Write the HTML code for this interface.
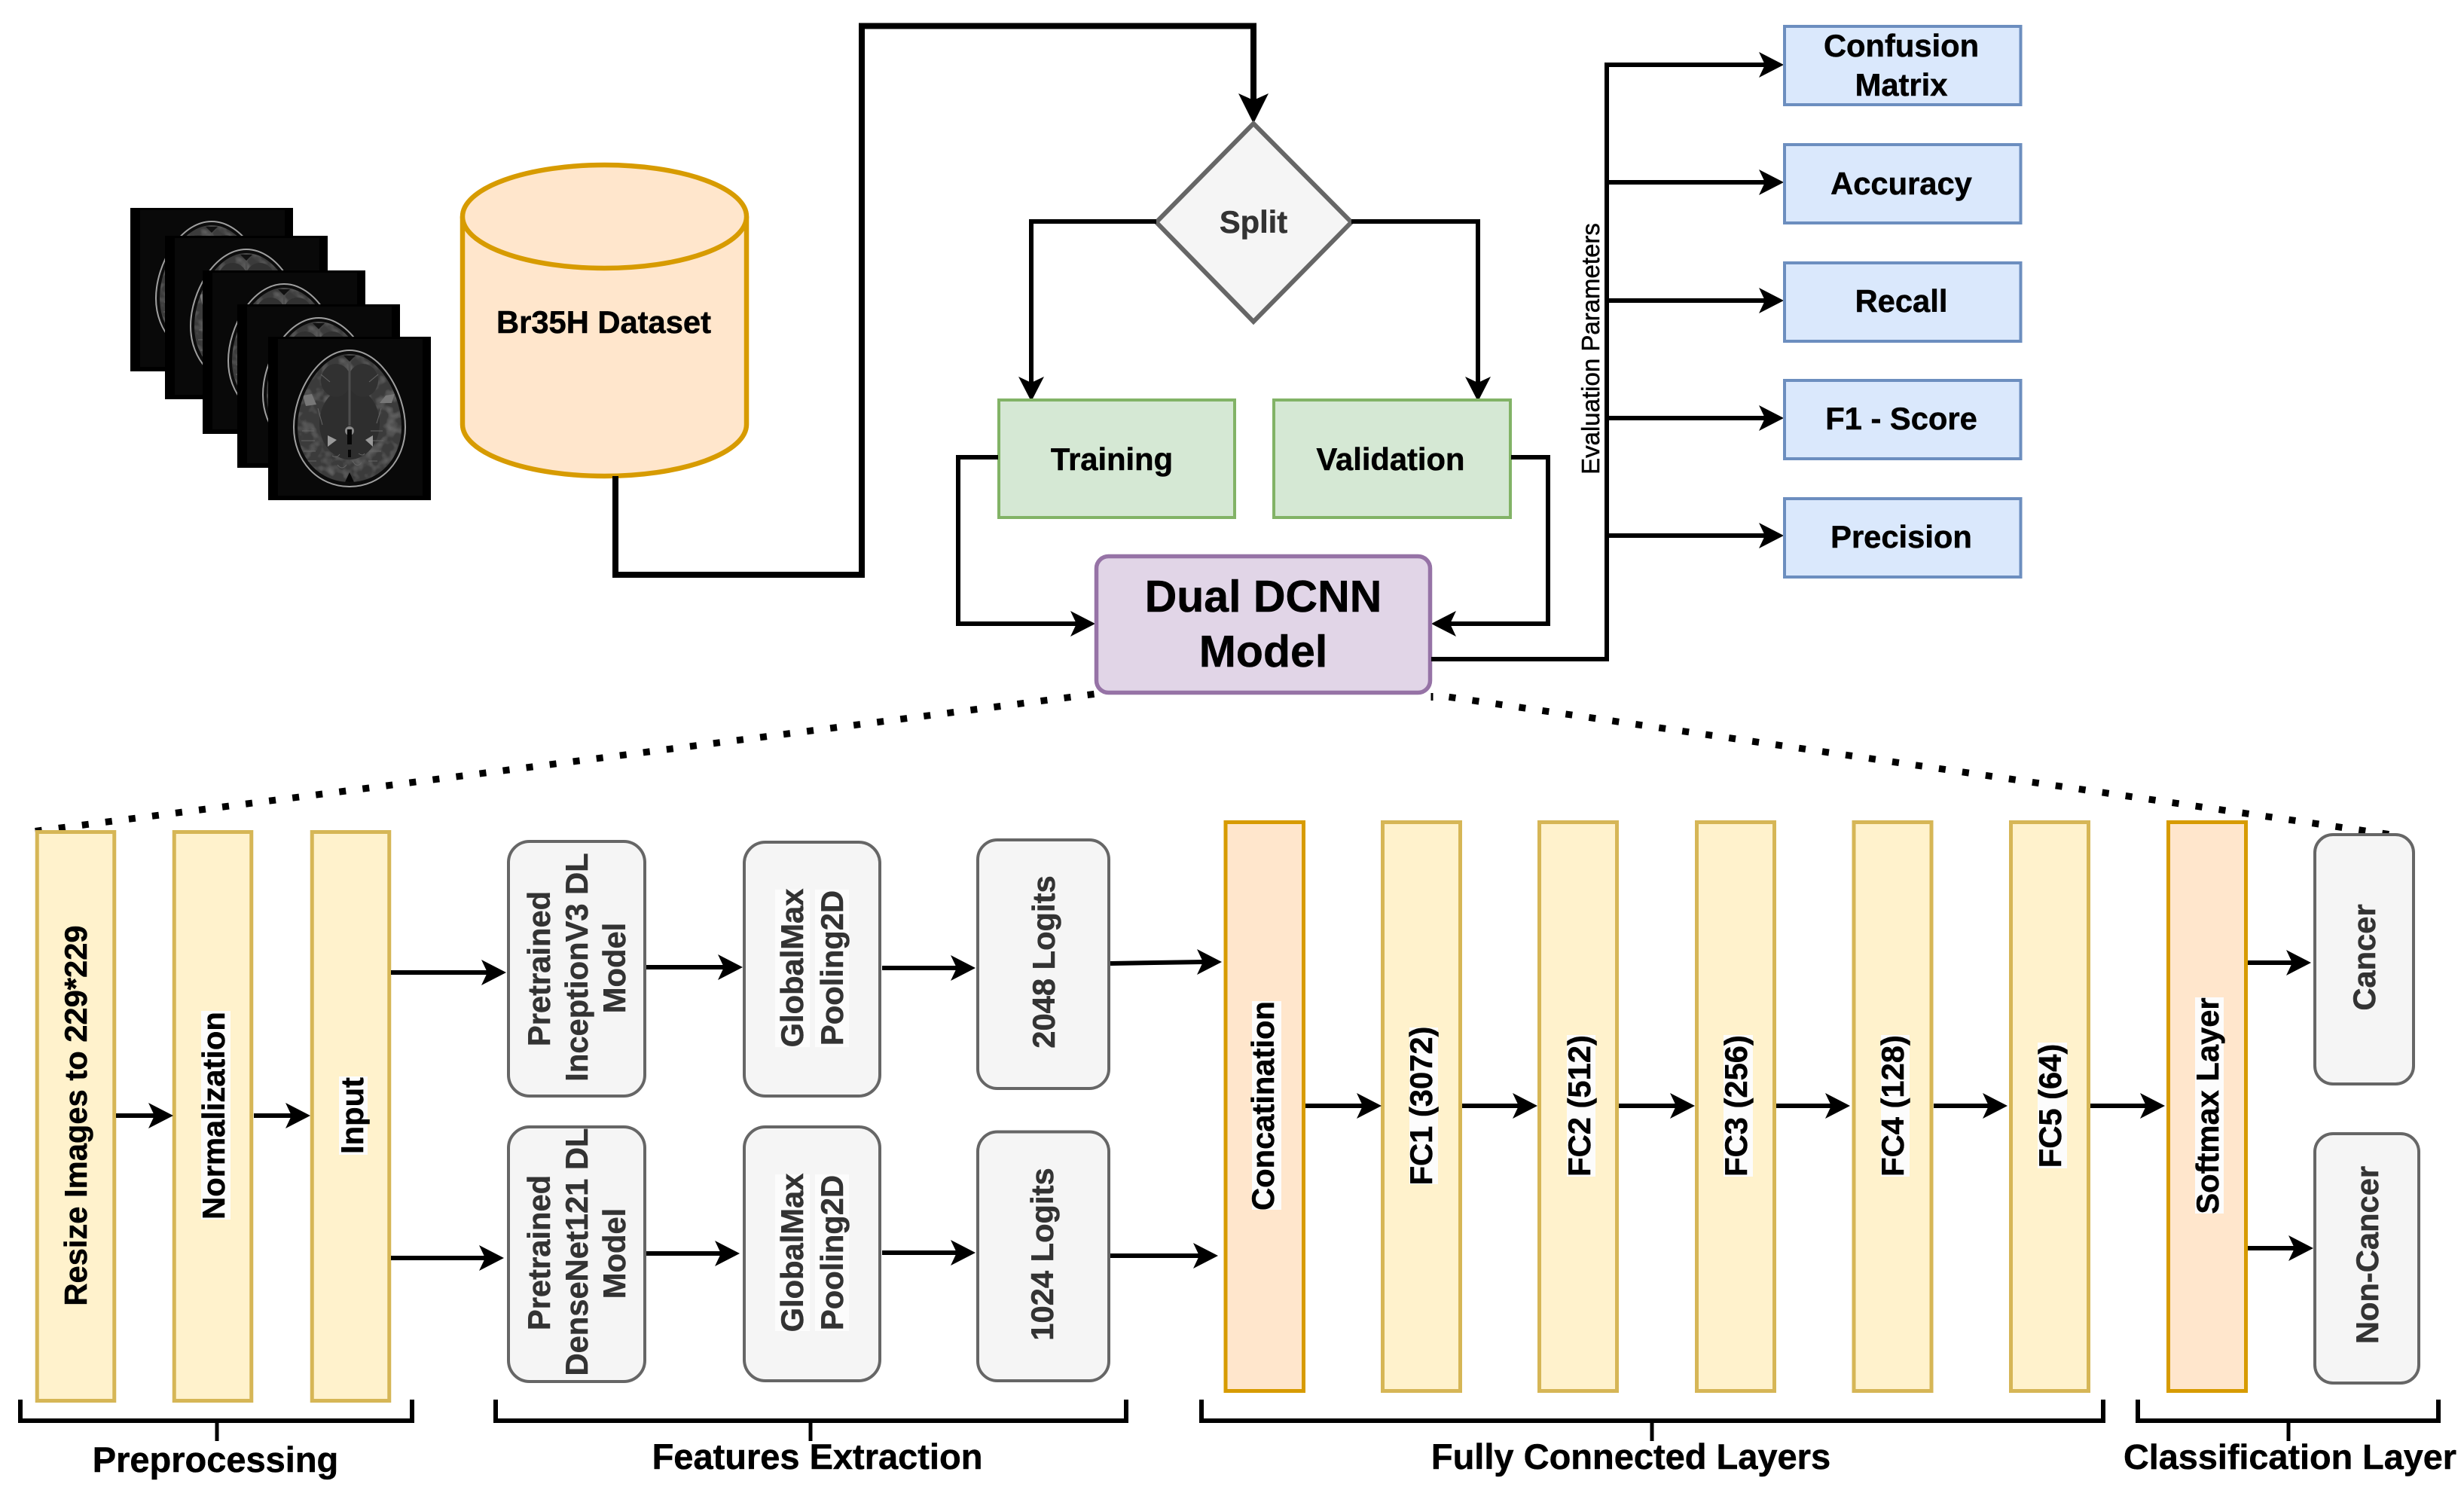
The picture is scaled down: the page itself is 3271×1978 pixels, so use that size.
<!DOCTYPE html>
<html><head><meta charset="utf-8"><style>
html,body{margin:0;padding:0;background:#fff}
svg{display:block}
text{font-family:"Liberation Sans",sans-serif;font-weight:bold;font-size:41.7px;text-anchor:middle;fill:#000;stroke:#000;stroke-width:.5px}
text.g{fill:#333;stroke:#333}
.y{fill:#fff2cc;stroke:#d6b656;stroke-width:5}
.o{fill:#ffe6cc;stroke:#d79b00;stroke-width:5}
.b{fill:#dae8fc;stroke:#6c8ebf;stroke-width:4}
.gr{fill:#d5e8d4;stroke:#82b366;stroke-width:4}
.n{fill:#f5f5f5;stroke:#666;stroke-width:4}
.l{fill:none;stroke:#000;stroke-width:6}
.bg{fill:#fcfcfc}
</style></head><body>
<svg xmlns="http://www.w3.org/2000/svg" width="3271" height="1978" viewBox="0 0 3271 1978">
<defs>
<path id="ah" d="M0 0L-33 -17L-25 0L-33 17Z"/>
<filter id="tx" x="0" y="0" width="100%" height="100%">
<feTurbulence type="fractalNoise" baseFrequency="0.07" numOctaves="2" seed="7" result="n"/>
<feColorMatrix in="n" type="matrix" values="0 0 0 0 1 0 0 0 0 1 0 0 0 0 1 2.2 0 0 0 -1.0" result="m"/>
<feComposite in="m" in2="SourceAlpha" operator="in" result="c"/>
<feComponentTransfer in="c" result="d"><feFuncA type="linear" slope="0.12"/></feComponentTransfer>
<feMerge><feMergeNode in="SourceGraphic"/><feMergeNode in="d"/></feMerge>
</filter>
<clipPath id="bc"><path d="M108 23C147 23 177 77 177 120C177 162 147 193 108 193C69 193 39 162 39 120C39 77 69 23 108 23Z"/></clipPath>
<g id="mri">
<rect width="216" height="217" fill="#000"/>
<rect x="13" y="3" width="192" height="208" fill="#090909"/>
<path d="M108 18C150 18 182 75 182 120C182 165 150 199 108 199C66 199 34 165 34 120C34 75 66 18 108 18Z" fill="#0c0c0c" stroke="#a0a0a0" stroke-width="2"/>
<path d="M108 23C147 23 177 77 177 120C177 162 147 193 108 193C69 193 39 162 39 120C39 77 69 23 108 23Z" fill="#3a3a3a" filter="url(#tx)"/>
<g clip-path="url(#bc)">
<ellipse cx="108" cy="115" rx="40" ry="48" fill="#2e2e2e"/>
<ellipse cx="90" cy="58" rx="20" ry="22" fill="#313131"/>
<ellipse cx="126" cy="58" rx="20" ry="22" fill="#313131"/>
<g fill="none" stroke="#666" stroke-width="1">
<path d="M45 125h16M44 138h18M47 152h16M52 165h12M152 125h-16M153 138h-18M150 152h-16M145 165h-12"/>
<path d="M92 170q6 8 12 0M112 165q6 10 12 2M85 158q6 4 10-2M120 155q6 4 8 0"/>
<path d="M66 95l6 22M150 95l-6 20M70 50l12 10M146 50l-12 10"/>
</g>
<path d="M108 26V118" stroke="#4e4e4e" stroke-width="3"/>
<path d="M46 78L58 76L64 90L50 92Z" fill="#777"/>
<path d="M148 88L156 78L168 76L164 88Z" fill="#777"/>
<path d="M79 131L91 137L79 146Z" fill="#999"/>
<path d="M139 131L129 137L139 146Z" fill="#999"/>
<circle cx="108" cy="125" r="6" fill="#888"/>
<rect x="105" y="123" width="6" height="20" fill="#060606"/>
<rect x="106" y="150" width="4" height="10" fill="#060606"/>
<path d="M108 180L102 193H114Z" fill="#060606"/>
<path d="M108 33L100 25H116Z" fill="#111"/>
</g>
</g>
</defs>

<!-- MRI stack -->
<use href="#mri" x="173" y="276"/>
<use href="#mri" x="219" y="313"/>
<use href="#mri" x="269" y="359"/>
<use href="#mri" x="315" y="404"/>
<use href="#mri" x="356" y="447"/>

<!-- Cylinder -->
<path d="M614 287.5V563.5A188.5 68.5 0 0 0 991 563.5V287.5" fill="#ffe6cc" stroke="#d79b00" stroke-width="6.500"/>
<ellipse cx="802.5" cy="287.5" rx="188.5" ry="68.5" fill="#ffe6cc" stroke="#d79b00" stroke-width="6.500"/>
<text x="801.500" y="442">Br35H Dataset</text>

<!-- Dataset to split -->
<path d="M817 632V763H1144V34.500H1664V140" fill="none" stroke="#000" stroke-width="8"/>
<path d="M1664 164L1644 124L1664 133L1684 124Z"/>

<!-- Split -->
<path d="M1664 164L1794 295L1664 427L1535 295Z" fill="#f5f5f5" stroke="#666" stroke-width="6"/>
<text x="1664" y="309" class="g">Split</text>
<path class="l" d="M1535 294H1369V510"/><use href="#ah" transform="translate(1369 533) rotate(90)"/>
<path class="l" d="M1794 294H1962V510"/><use href="#ah" transform="translate(1962 533) rotate(90)"/>

<rect class="gr" x="1326" y="531" width="313" height="156"/>
<rect class="gr" x="1691" y="531" width="314" height="156"/>
<text x="1476" y="624">Training</text>
<text x="1846" y="624">Validation</text>

<path class="l" d="M1325 607H1272V828H1430"/><use href="#ah" transform="translate(1454 828)"/>
<path class="l" d="M2006 607H2055V828H1925"/><use href="#ah" transform="translate(1900 828) rotate(180)"/>

<rect x="1455.500" y="738.500" width="443" height="181" rx="16" fill="#e1d5e7" stroke="#9673a6" stroke-width="5.500"/>
<text x="1677" y="812" style="font-size:59px">Dual DCNN</text>
<text x="1677" y="885" style="font-size:59px">Model</text>

<!-- Evaluation -->
<path class="l" d="M1900 875H2133V86H2345M2133 242H2345M2133 399H2345M2133 555H2345M2133 711H2345"/>
<use href="#ah" transform="translate(2368 86)"/>
<use href="#ah" transform="translate(2368 242)"/>
<use href="#ah" transform="translate(2368 399)"/>
<use href="#ah" transform="translate(2368 555)"/>
<use href="#ah" transform="translate(2368 711)"/>
<text transform="translate(2123 463) rotate(-90)" style="font-size:33px;font-weight:normal">Evaluation Parameters</text>

<rect class="b" x="2369" y="35" width="313.500" height="104"/>
<rect class="b" x="2369" y="192" width="313.500" height="104"/>
<rect class="b" x="2369" y="349" width="313.500" height="104"/>
<rect class="b" x="2369" y="505" width="313.500" height="104"/>
<rect class="b" x="2369" y="662" width="313.500" height="104"/>
<text x="2524" y="75">Confusion</text>
<text x="2524" y="127">Matrix</text>
<text x="2524" y="258">Accuracy</text>
<text x="2524" y="414">Recall</text>
<text x="2524" y="570">F1 - Score</text>
<text x="2524" y="727">Precision</text>

<!-- Dotted -->
<path d="M1452.5 921.4L46 1103.500" fill="none" stroke="#000" stroke-width="9" stroke-dasharray="9 22.300"/>
<path d="M1923.5 925.3L3171.5 1107.600" fill="none" stroke="#000" stroke-width="9" stroke-dasharray="9 22.300"/>
<path d="M1901 920V930" stroke="#000" stroke-width="3"/>

<!-- Preprocessing -->
<rect class="y" x="49.250" y="1104.500" width="102.500" height="755"/>
<rect class="y" x="231.250" y="1104.500" width="102.500" height="755"/>
<rect class="y" x="414.250" y="1104.500" width="102.500" height="755"/>
<text transform="translate(115 1481) rotate(-90)">Resize Images to 229*229</text>
<rect class="bg" x="267" y="1342" width="39" height="277"/>
<text transform="translate(298 1481) rotate(-90)">Normalization</text>
<rect class="bg" x="450" y="1429" width="38" height="104"/>
<text transform="translate(482 1481) rotate(-90)">Input</text>
<path class="l" d="M154 1481H207"/><use href="#ah" transform="translate(230 1481)"/>
<path class="l" d="M337 1481H389"/><use href="#ah" transform="translate(412 1481)"/>
<path class="l" d="M519 1291H647"/><use href="#ah" transform="translate(672 1291)"/>
<path class="l" d="M519 1670H644"/><use href="#ah" transform="translate(669 1670)"/>

<!-- Feature extraction -->
<rect class="n" x="675" y="1117" width="181" height="338" rx="28"/>
<rect class="n" x="675" y="1496" width="181" height="338" rx="28"/>
<text transform="translate(730 1286) rotate(-90)" class="g">Pretrained</text>
<text transform="translate(780 1284) rotate(-90)" class="g">InceptionV3 DL</text>
<text transform="translate(830 1285) rotate(-90)" class="g">Model</text>
<text transform="translate(730 1663) rotate(-90)" class="g">Pretrained</text>
<text transform="translate(780 1662) rotate(-90)" class="g">DenseNet121 DL</text>
<text transform="translate(830 1664) rotate(-90)" class="g">Model</text>
<path class="l" d="M858 1284H961"/><use href="#ah" transform="translate(986 1284)"/>
<path class="l" d="M858 1664H957"/><use href="#ah" transform="translate(982 1664)"/>

<rect class="n" x="988" y="1118" width="180" height="337" rx="28"/>
<rect class="n" x="988" y="1496" width="180" height="337" rx="28"/>
<rect class="bg" x="1029" y="1181" width="46" height="209"/>
<rect class="bg" x="1082" y="1181" width="45" height="209"/>
<rect class="bg" x="1029" y="1559" width="46" height="208"/>
<rect class="bg" x="1082" y="1559" width="45" height="208"/>
<text transform="translate(1066 1285) rotate(-90)" class="g">GlobalMax</text>
<text transform="translate(1119 1285) rotate(-90)" class="g">Pooling2D</text>
<text transform="translate(1066 1663) rotate(-90)" class="g">GlobalMax</text>
<text transform="translate(1119 1663) rotate(-90)" class="g">Pooling2D</text>
<path class="l" d="M1171 1285H1270"/><use href="#ah" transform="translate(1295 1285)"/>
<path class="l" d="M1171 1663H1270"/><use href="#ah" transform="translate(1295 1663)"/>

<rect class="n" x="1298" y="1115" width="174" height="330" rx="26"/>
<rect class="n" x="1298" y="1502.500" width="174" height="330.500" rx="26"/>
<text transform="translate(1400 1277) rotate(-90)" class="g">2048 Logits</text>
<text transform="translate(1398 1665) rotate(-90)" class="g">1024 Logits</text>
<path class="l" d="M1474 1279L1597 1277"/><use href="#ah" transform="translate(1622 1277)"/>
<path class="l" d="M1474 1667H1592"/><use href="#ah" transform="translate(1617 1667)"/>

<!-- Fully connected -->
<rect class="o" x="1627" y="1091.500" width="103.500" height="755"/>
<rect class="bg" x="1662" y="1329" width="39" height="277"/>
<text transform="translate(1691 1468) rotate(-90)">Concatination</text>
<rect class="y" x="1835.500" y="1091.500" width="103" height="755"/>
<rect class="y" x="2043.500" y="1091.500" width="103" height="755"/>
<rect class="y" x="2252.500" y="1091.500" width="103" height="755"/>
<rect class="y" x="2461" y="1091.500" width="103" height="755"/>
<rect class="y" x="2669.500" y="1091.500" width="103" height="755"/>
<rect class="bg" x="1871" y="1364" width="38" height="208"/>
<rect class="bg" x="2080" y="1374" width="38" height="188"/>
<rect class="bg" x="2288" y="1374" width="39" height="188"/>
<rect class="bg" x="2497" y="1374" width="38" height="188"/>
<rect class="bg" x="2705" y="1384" width="39" height="167"/>
<text transform="translate(1901 1468) rotate(-90)">FC1 (3072)</text>
<text transform="translate(2111 1468) rotate(-90)">FC2 (512)</text>
<text transform="translate(2319 1468) rotate(-90)">FC3 (256)</text>
<text transform="translate(2527 1468) rotate(-90)">FC4 (128)</text>
<text transform="translate(2736 1468) rotate(-90)">FC5 (64)</text>
<path class="l" d="M1733 1468H1809"/><use href="#ah" transform="translate(1834 1468)"/>
<path class="l" d="M1941 1468H2016"/><use href="#ah" transform="translate(2041 1468)"/>
<path class="l" d="M2149 1468H2225"/><use href="#ah" transform="translate(2250 1468)"/>
<path class="l" d="M2358 1468H2431"/><use href="#ah" transform="translate(2456 1468)"/>
<path class="l" d="M2775 1468H2849"/><use href="#ah" transform="translate(2874 1468) "/>
<path class="l" d="M2567 1468H2640"/><use href="#ah" transform="translate(2665 1468)"/>

<!-- Classification -->
<rect class="o" x="2878.500" y="1091.500" width="103" height="755"/>
<rect class="bg" x="2914" y="1324" width="38" height="287"/>
<text transform="translate(2945 1468) rotate(-90)">Softmax Layer</text>
<path class="l" d="M2984 1278H3043"/><use href="#ah" transform="translate(3068 1278)"/>
<path class="l" d="M2984 1657H3046"/><use href="#ah" transform="translate(3071 1657)"/>
<rect class="n" x="3073" y="1108" width="131" height="331" rx="24"/>
<rect class="n" x="3073" y="1505" width="138" height="331" rx="24"/>
<text transform="translate(3153 1271) rotate(-90)" class="g">Cancer</text>
<text transform="translate(3157 1666) rotate(-90)" class="g">Non-Cancer</text>

<!-- Brackets -->
<path class="l" d="M27 1858V1886H547V1858"/>
<path d="M288 1886V1913" stroke="#000" stroke-width="5"/>
<path class="l" d="M658 1858V1886H1495V1858"/>
<path d="M1076 1886V1913" stroke="#000" stroke-width="5"/>
<path class="l" d="M1595 1858V1886H2792V1858"/>
<path d="M2193 1886V1913" stroke="#000" stroke-width="5"/>
<path class="l" d="M2838 1858V1886H3237V1858"/>
<path d="M3038 1886V1913" stroke="#000" stroke-width="5"/>
<text x="286" y="1954" style="font-size:47px">Preprocessing</text>
<text x="1085" y="1950" style="font-size:47px">Features Extraction</text>
<text x="2165" y="1950" style="font-size:47px">Fully Connected Layers</text>
<text x="3040" y="1950" style="font-size:46px" textLength="442" lengthAdjust="spacingAndGlyphs">Classification Layer</text>
</svg>
</body></html>
